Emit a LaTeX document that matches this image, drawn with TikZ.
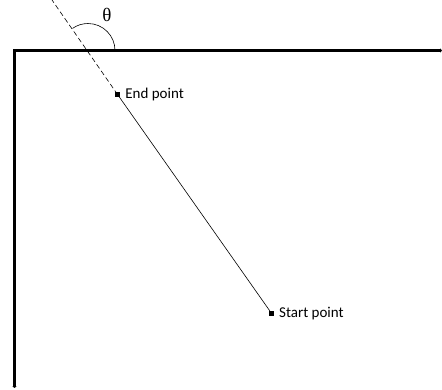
\documentclass[tikz,border=0pt]{standalone}
\usepackage{fontspec}
\setmainfont{Carlito}
\newfontfamily\thetafont{Liberation Serif}
\usetikzlibrary{arrows.meta,positioning,calc}
\tikzset{
  axline/.style={line width=3pt, -{Latex[length=2pt,width=5pt]}},
  ptmark/.style={fill=black, draw=none, minimum size=4.5pt, inner sep=0pt},
  ptlabel/.style={font=\fontsize{15}{17}\selectfont, inner sep=0pt},
  pathline/.style={line width=0.6pt},
}
\begin{document}
\begin{tikzpicture}[x=1pt, y=-1pt]
  \useasboundingbox (0,0) rectangle (442,389);
  \coordinate (corner) at (14.5,50.5);
  \coordinate (xend)   at (442,50.5);
  \coordinate (yend)   at (14.5,388);
  \coordinate (top)    at (52,0);
  \coordinate (cross)  at (88,50.5);

  % axes
  \draw[axline] ($(corner)+(-1.5,0)$) -- (xend);
  \draw[axline] (corner) -- (yend);

  % points
  \node[ptmark] (endpt)   at (117.7,94.7) {};
  \node[ptmark] (startpt) at (271.5,313.3) {};
  \node[ptlabel, right=5pt of endpt]   (endlbl)   {End point};
  \node[ptlabel, right=5pt of startpt] (startlbl) {Start point};

  \draw[pathline] (startpt.center) -- (endpt.center);
  \draw[pathline, dash pattern=on 5pt off 3pt] (endpt.center) -- (top);

  % angle
  \draw[line width=0.6pt] ($(cross)+(27,0)$) arc[start angle=0, end angle=-125, radius=27];
  \node[font=\thetafont\fontsize{19}{21}\selectfont, inner sep=0pt] (theta) at (107,15) {θ};
\end{tikzpicture}
\end{document}
